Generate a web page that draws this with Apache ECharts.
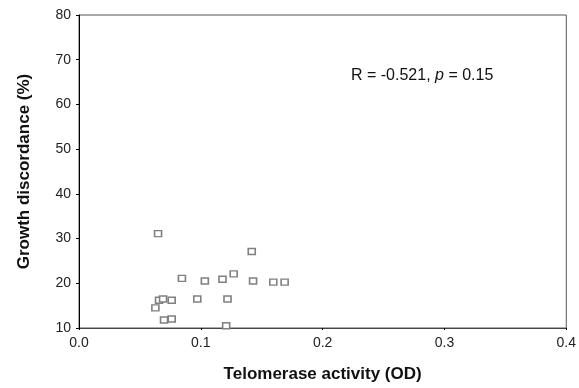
<!DOCTYPE html>
<html><head><meta charset="utf-8">
<script src="https://cdn.jsdelivr.net/npm/echarts@6/dist/echarts.min.js"></script>
<style>html,body{margin:0;padding:0;background:#fff}#c{width:579px;height:388px}</style>
</head><body><div id="c"></div>
<script>
var telomerase = [0.0649,0.1418,0.0845,0.1033,0.1178,0.1270,0.1429,0.1595,0.1688,0.0657,0.0690,0.0761,0.0971,0.1219,0.0627,0.0698,0.0761,0.1208];
var discordance = [31.1,27.1,21.1,20.5,20.9,22.1,20.5,20.25,20.25,16.2,16.5,16.2,16.5,16.5,14.5,11.8,12.0,10.5];
var xTicks = ['0.0','0.1','0.2','0.3','0.4'];
var yTicks = ['10','20','30','40','50','60','70','80'];
var pts = telomerase.map(function(x,i){return [x, discordance[i]];});
var F = 'Liberation Sans, Arial, sans-serif';
var chart = echarts.init(document.getElementById('c'));
chart.setOption({
  animation:false,
  grid:{left:79,right:11,top:15,bottom:59,show:true,borderColor:'#555',borderWidth:1},
  xAxis:{type:'value',min:0,max:0.4,interval:0.1,
    axisLine:{show:true,lineStyle:{color:'#444',width:1}},
    axisTick:{show:true,length:2,lineStyle:{color:'#000'}},
    splitLine:{show:false},
    axisLabel:{color:'#222',fontFamily:F,fontSize:14,margin:8,formatter:function(v){var i=Math.round(v*10);return xTicks[i];}},
    name:'Telomerase activity (OD)',nameLocation:'middle',nameGap:38,
    nameTextStyle:{fontFamily:F,fontSize:17,fontWeight:'bold',color:'#111'}},
  yAxis:{type:'value',min:10,max:80,interval:10,
    axisLine:{show:true,lineStyle:{color:'#000',width:1}},
    axisTick:{show:true,length:3,lineStyle:{color:'#000'}},
    splitLine:{show:false},
    axisLabel:{color:'#222',fontFamily:F,fontSize:14,margin:8,formatter:function(v){return yTicks[Math.round(v/10)-1];}},
    name:'Growth discordance (%)',nameLocation:'middle',nameGap:46,nameRotate:90,
    nameTextStyle:{fontFamily:F,fontSize:17,fontWeight:'bold',color:'#111'}},
  graphic:[{type:'text',left:351,top:68,style:{
    text:'{a|R = -0.521, }{i|p}{a| = 0.15}',
    rich:{a:{fontFamily:F,fontSize:16,fill:'#111'},i:{fontFamily:F,fontSize:16,fontStyle:'italic',fill:'#111'}}}}],
  series:[{type:'scatter',data:pts,symbol:'rect',symbolSize:[7,6],
    itemStyle:{color:'#fff',borderColor:'#808080',borderWidth:1.5,opacity:1}}]
});
</script></body></html>
